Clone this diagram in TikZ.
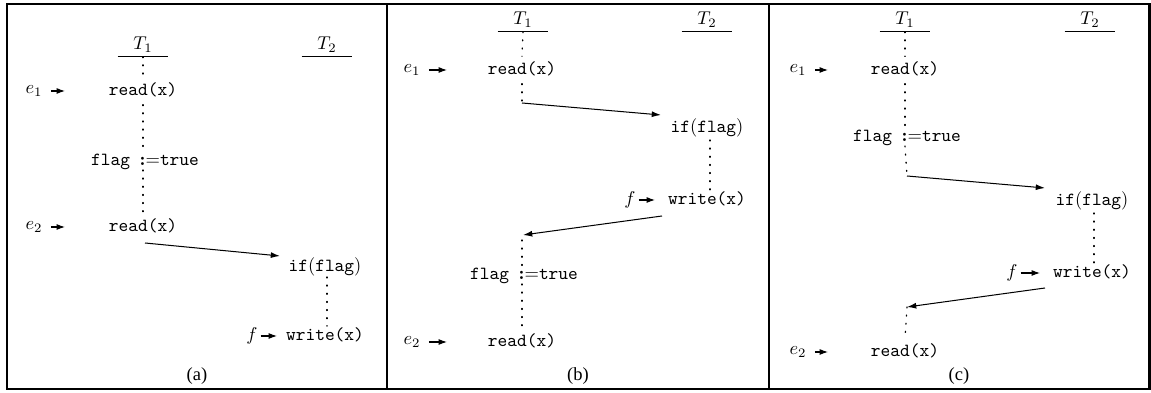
\documentclass[tikz,border=0pt]{standalone}
\usepackage{fontspec}
\newfontfamily\capfont{Liberation Serif}
\usetikzlibrary{arrows.meta,calc}
\newcommand{\asg}{{\rmfamily{\bfseries :}\kern0pt=}}
\begin{document}
\begin{tikzpicture}[x=0.54pt,y=-0.54pt,
  frame/.style={line width=1.1pt},
  hd/.style={inner xsep=0pt,inner ysep=2pt,minimum width=27pt,text height=6.8pt,text depth=1.5pt},
  ul/.style={line width=0.5pt},
  op/.style={inner sep=2.2pt,font=\ttfamily,text height=7.5pt,text depth=2.5pt},
  lbl/.style={inner ysep=1pt,inner xsep=4.3pt},
  flbl/.style={inner ysep=1pt,inner xsep=1.5pt},
  captext/.style={font=\capfont\fontsize{10}{12}\selectfont},
  dots/.style={line width=0.7pt,dash pattern=on 0.5pt off 3.9pt,line cap=round},
  msg/.style={line width=0.55pt,-{Latex[length=5pt,width=3.2pt]}},
  ev/.style={line width=0.55pt,-{Latex[length=4.5pt,width=3.2pt]}}]
\useasboundingbox (0,0) rectangle (1151,393);
% frame
\draw[frame] (7,4) rectangle (1149.5,389);
\draw[frame] (387,4) -- (387,389);
\draw[frame] (769,4) -- (769,389);

% ---------------- panel (a)
\node[hd] (T1a) at (143,45) {$T_1$};
\node[hd] (T2a) at (327,45) {$T_2$};
\draw[ul] (T1a.south west) -- (T1a.south east);
\draw[ul] (T2a.south west) -- (T2a.south east);
\node[op] (r1a) at (143,91) {read(x)};
\node[op] (fla) at (145,161) {flag \asg true};
\node[op] (r2a) at (143,227) {read(x)};
\node[op] (ifa) at (325,267) {if$(\mathtt{flag})$};
\node[op] (wa) at (325,336) {write(x)};
\node[lbl] (e1a) at (34,91) {$e_1$};
\node[lbl] (e2a) at (34,227) {$e_2$};
\node[flbl] (fa) at (252,336) {$f$};
\coordinate (e1ae) at (65,91);
\coordinate (e2ae) at (65,227);
\coordinate (fae) at (277,336);
\draw[ev] (e1a) -- (e1ae);
\draw[ev] (e2a) -- (e2ae);
\draw[ev] (fa) -- (fae);
\draw[dots] (T1a.south) -- (r1a.north);
\draw[dots] (r1a.south) -- (143,152);
\draw[dots] (143,170) -- (r2a.north);
\draw[dots] (327,277) -- (327,326);
\coordinate (sa) at (145,243);
\coordinate (ea) at (280,256);
\draw[msg] (sa) -- (ea);
\node[captext] (capa) at (197,376) {(a)};

% ---------------- panel (b)
\node[hd] (T1b) at (523,20) {$T_1$};
\node[hd] (T2b) at (707,20) {$T_2$};
\draw[ul] (T1b.south west) -- (T1b.south east);
\draw[ul] (T2b.south west) -- (T2b.south east);
\node[op] (r1b) at (522,70) {read(x)};
\node[op] (ifb) at (707,128) {if$(\mathtt{flag})$};
\node[op] (wb) at (707,200) {write(x)};
\node[op] (flb) at (524,275) {flag \asg true};
\node[op] (r2b) at (522,342) {read(x)};
\node[lbl] (e1b) at (412,70) {$e_1$};
\node[lbl] (e2b) at (412,342) {$e_2$};
\node[flbl] (fb) at (630,200) {$f$};
\coordinate (e1be) at (447,70);
\coordinate (e2be) at (447,342);
\coordinate (fbe) at (655,200);
\draw[ev] (e1b) -- (e1be);
\draw[ev] (e2b) -- (e2be);
\draw[ev] (fb) -- (fbe);
\draw[dots] (T1b.south) -- (r1b.north);
\coordinate (sb1) at (522,103);
\coordinate (eb1) at (661,115);
\draw[dots] (r1b.south) -- (sb1);
\draw[msg] (sb1) -- (eb1);
\draw[dots] (710,140) -- (710,190);
\coordinate (sb2) at (662,216);
\coordinate (eb2) at (523,235);
\draw[msg] (sb2) -- (eb2);
\draw[dots] (522,240) -- (522,266);
\draw[dots] (522,284) -- (r2b.north);
\node[captext] (capb) at (578,376) {(b)};

% ---------------- panel (c)
\node[hd] (T1c) at (905,20) {$T_1$};
\node[hd] (T2c) at (1090,20) {$T_2$};
\draw[ul] (T1c.south west) -- (T1c.south east);
\draw[ul] (T2c.south west) -- (T2c.south east);
\node[op] (r1c) at (905,70) {read(x)};
\node[op] (flc) at (907,137) {flag \asg true};
\node[op] (ifc) at (1092,201) {if$(\mathtt{flag})$};
\node[op] (wc) at (1092,273) {write(x)};
\node[op] (r2c) at (905,352) {read(x)};
\node[lbl] (e1c) at (798,70) {$e_1$};
\node[lbl] (e2c) at (798,352) {$e_2$};
\node[flbl] (fc) at (1012,273) {$f$};
\coordinate (e1ce) at (828,70);
\coordinate (e2ce) at (828,352);
\coordinate (fce) at (1040,273);
\draw[ev] (e1c) -- (e1ce);
\draw[ev] (e2c) -- (e2ce);
\draw[ev] (fc) -- (fce);
\draw[dots] (T1c.south) -- (r1c.north);
\draw[dots] (r1c.south) -- (905,128);
\coordinate (sc1) at (907,176);
\coordinate (ec1) at (1045,188);
\draw[dots] (905,146) -- (sc1);
\draw[msg] (sc1) -- (ec1);
\draw[dots] (1094,213) -- (1094,263);
\coordinate (sc2) at (1045,288);
\coordinate (ec2) at (907,307);
\draw[msg] (sc2) -- (ec2);
\draw[dots] (ec2) -- (r2c.north);
\node[captext] (capc) at (959,376) {(c)};
\end{tikzpicture}
\end{document}
